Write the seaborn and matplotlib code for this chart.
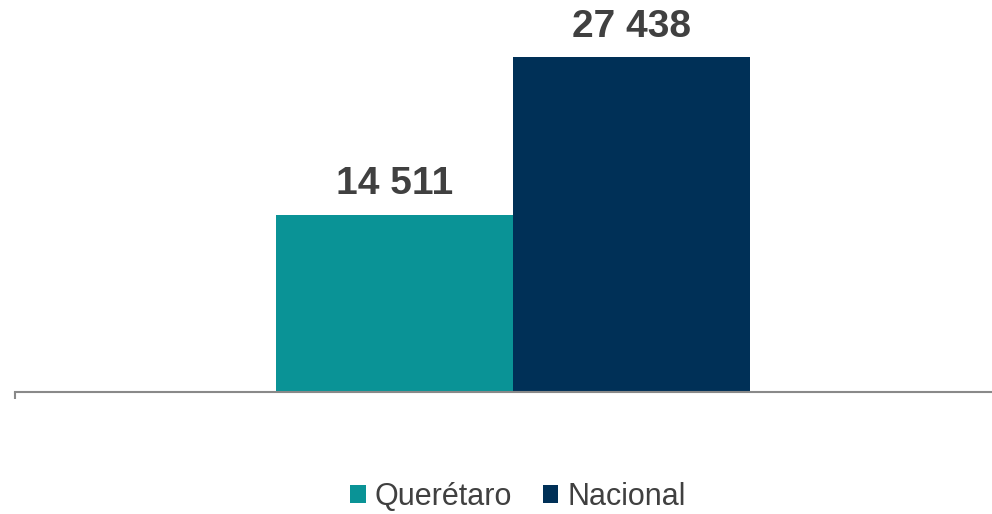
import matplotlib
matplotlib.use("Agg")
import matplotlib.pyplot as plt
import seaborn as sns
import pandas as pd
from matplotlib.patches import Patch

series = ["Querétaro", "Nacional"]
values = [14511, 27438]
labels = ["14 511", "27 438"]
colors = ["#0A9396", "#003057"]

df = pd.DataFrame({"cat": ["x", "x"], "serie": series, "valor": values})

sns.set_theme(style="white")
plt.rcParams['font.family'] = ['Liberation Sans', 'DejaVu Sans']

fig = plt.figure(figsize=(9.92, 5.14), dpi=100)
ax = fig.add_axes([15/992, 122/514, 996/992, 366/514])
sns.barplot(data=df, x="cat", y="valor", hue="serie", palette=colors,
            width=0.475, saturation=1, linewidth=0, ax=ax, legend=False)
ax.set_ylim(0, 30000)
ax.set_xlim(-0.5, 0.5)
for c, lab in zip(ax.containers, labels):
    ax.bar_label(c, labels=[lab], padding=9, fontsize=28, fontweight="bold", color="#404040")

for s in ["top", "right", "left"]:
    ax.spines[s].set_visible(False)
ax.spines["bottom"].set_color("#898989")
ax.spines["bottom"].set_linewidth(1.5)
ax.set_yticks([])
ax.set_xticks([-0.5, 0.5])
ax.set_xticklabels(["", ""])
ax.tick_params(axis="x", bottom=True, length=5, width=1.5, color="#898989")
ax.set_xlabel("")
ax.set_ylabel("")

handles = [Patch(facecolor=c, edgecolor="none", label=s) for c, s in zip(colors, series)]
fig.legend(handles=handles, loc="center", bbox_to_anchor=(518/992, 1 - 497/514), ncol=2,
           frameon=False, fontsize=22, handlelength=0.5, handleheight=0.5,
           handletextpad=0.3, columnspacing=1.0, labelcolor="#404040")

fig.savefig("out.png", dpi=100)
